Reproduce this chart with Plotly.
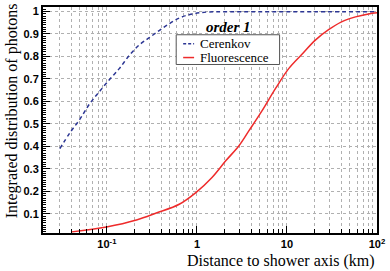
import numpy as np
import plotly.graph_objects as go

# Cerenkov (dashed blue)
cer_x = [0.030, 0.0387, 0.0499, 0.0644, 0.083, 0.107, 0.138, 0.178, 0.23, 0.296, 0.384, 0.49, 0.636, 0.82, 1.06, 1.36, 2.0, 5.0, 20, 100]
cer_y = [0.39, 0.46, 0.52, 0.59, 0.645, 0.698, 0.747, 0.806, 0.852, 0.884, 0.916, 0.945, 0.971, 0.986, 0.994, 0.998, 0.999, 0.999, 0.999, 0.999]

# Fluorescence (solid red)
flu_x = [0.0407, 0.099, 0.213, 0.354, 0.636, 0.98, 1.47, 2.1, 2.93, 3.77, 5.25, 7.5, 10.5, 14.5, 20.8, 29, 40.4, 57.7, 80.4, 100]
flu_y = [0.020, 0.042, 0.073, 0.104, 0.143, 0.196, 0.262, 0.337, 0.403, 0.469, 0.557, 0.659, 0.747, 0.808, 0.874, 0.919, 0.954, 0.976, 0.989, 0.994]

series_names = ["Cerenkov", "Fluorescence"]
series_colors = ["#2b3593", "#ee2b2b"]
series_dash = ["4px,3px", "solid"]

x_tickvals = [0.1, 1, 10, 100]
x_ticktext = ["10<sup>-1</sup>", "1", "10", "10<sup>2</sup>"]
x_minor = [m * 10.0 ** e for e in (-2, -1, 0, 1) for m in range(2, 10)]
y_tickvals = [0.1, 0.2, 0.3, 0.4, 0.5, 0.6, 0.7, 0.8, 0.9, 1.0]
y_ticktext = ["0.1", "0.2", "0.3", "0.4", "0.5", "0.6", "0.7", "0.8", "0.9", "1"]

serif = "Liberation Serif, Times New Roman, Times, serif"
sans = "Liberation Sans, Arial, Helvetica, sans-serif"

# layout geometry (pixels)
W, H = 390, 271
ML, MR, MT, MB = 43, 11, 5, 38
PW, PH = W - ML - MR, H - MT - MB


def px(xp):
    return (xp - ML) / PW


def py(yp):
    return (H - MB - yp) / PH


fig = go.Figure()
fig.add_trace(go.Scatter(x=cer_x, y=cer_y, mode="lines", name=series_names[0], line_shape="spline",
                         line=dict(color=series_colors[0], width=1.5, dash=series_dash[0])))
fig.add_trace(go.Scatter(x=flu_x, y=flu_y, mode="lines", name=series_names[1], line_shape="spline",
                         line=dict(color=series_colors[1], width=1.5, dash=series_dash[1])))

grid = dict(showgrid=True, gridcolor="#b0b0b0", griddash="dot", gridwidth=1)

fig.update_xaxes(type="log", range=[np.log10(0.0195), 2.0],
                 tickmode="array", tickvals=x_tickvals, ticktext=x_ticktext,
                 ticks="inside", ticklen=7, tickwidth=1, tickcolor="black",
                 showline=True, linecolor="black", linewidth=2, mirror=True,
                 tickfont=dict(family=sans, size=11, color="black", weight="bold"),
                 minor=dict(tickmode="array", tickvals=x_minor, ticks="inside", ticklen=4,
                            tickcolor="black", showgrid=True, gridcolor="#b0b0b0", griddash="dot"),
                 zeroline=False, **grid)
fig.update_yaxes(range=[0.015, 1.02],
                 tickmode="array", tickvals=y_tickvals, ticktext=y_ticktext,
                 ticks="inside", ticklen=7, tickwidth=1, tickcolor="black",
                 showline=True, linecolor="black", linewidth=2, mirror=True,
                 tickfont=dict(family=sans, size=11, color="black", weight="bold"),
                 minor=dict(dtick=0.01, tick0=0, ticks="inside", ticklen=3, tickcolor="black", showgrid=False),
                 zeroline=False, **grid)

# hand-drawn legend box (matches the reference's compact legend)
shapes = [dict(type="rect", xref="paper", yref="paper", x0=px(177), x1=px(281), y0=py(33), y1=py(63),
               line=dict(color="#555555", width=1), fillcolor="white", layer="above")]
annotations = []
for i, (nm, col, dsh) in enumerate(zip(series_names, series_colors, series_dash)):
    yy = 42 + 14 * i
    shapes.append(dict(type="line", xref="paper", yref="paper", x0=px(184), x1=px(195), y0=py(yy), y1=py(yy),
                       line=dict(color=col, width=1.5, dash="3px,2px" if dsh != "solid" else "solid"),
                       layer="above"))
    annotations.append(dict(text=nm, x=px(199), y=py(yy), xref="paper", yref="paper",
                            xanchor="left", yanchor="middle", showarrow=False,
                            font=dict(family=serif, size=13, color="black")))

annotations += [
    dict(text="<b><i>order 1</i></b>", x=px(230), y=py(25), xref="paper", yref="paper",
         xanchor="center", yanchor="middle", showarrow=False,
         font=dict(family=serif, size=15, color="black")),
    dict(text="Distance to shower axis (km)", x=px(379), y=py(261), xref="paper", yref="paper",
         xanchor="right", yanchor="middle", showarrow=False,
         font=dict(family=serif, size=16, color="black")),
    dict(text="Integrated distribution of photons", x=px(12), y=py(110), xref="paper", yref="paper",
         textangle=-90, xanchor="center", yanchor="middle", showarrow=False,
         font=dict(family=serif, size=16, color="black")),
]

fig.update_layout(
    width=W, height=H,
    margin=dict(l=ML, r=MR, t=MT, b=MB),
    paper_bgcolor="white", plot_bgcolor="white",
    showlegend=False,
    shapes=shapes,
    annotations=annotations,
)

fig.write_html("out.html", config={"displayModeBar": False},
               post_script="document.body.style.margin='0';document.body.style.overflow='hidden';")
